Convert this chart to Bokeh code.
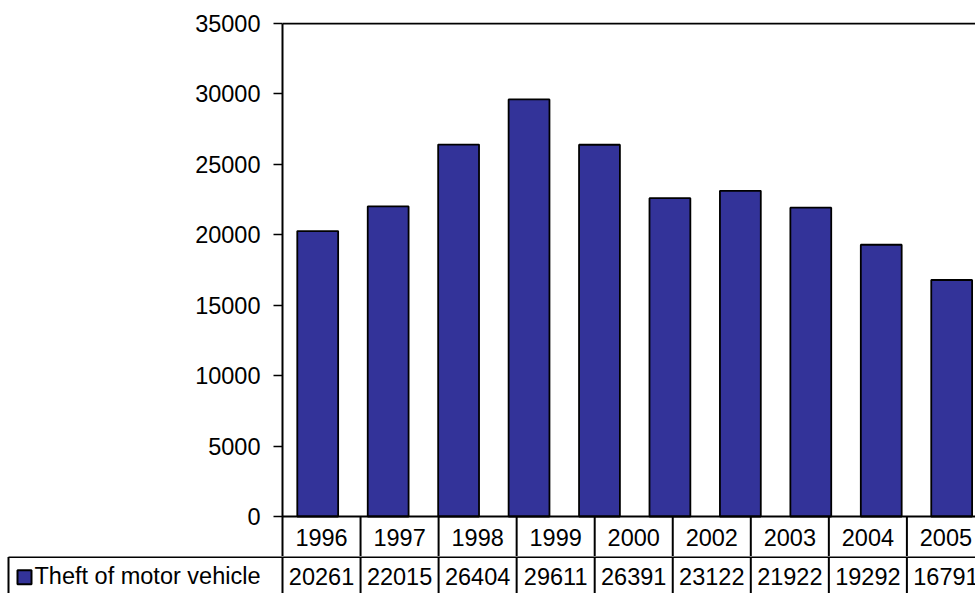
from bokeh.plotting import figure
from bokeh.layouts import column
from bokeh.models import Range1d, FixedTicker, Span, ColumnDataSource
from bokeh.core.properties import value
from bokeh.embed import file_html
from bokeh.resources import INLINE

# Yearly counts shown as bars (one bar per year)
bar_years = ["1996", "1997", "1998", "1999", "2000", "2001", "2002", "2003", "2004", "2005"]
bar_values = [20261, 22015, 26404, 29611, 26391, 22600, 23122, 21922, 19292, 16791]

# Data table printed under the chart
table_years = ["1996", "1997", "1998", "1999", "2000", "2002", "2003", "2004", "2005"]
table_values = [20261, 22015, 26404, 29611, 26391, 23122, 21922, 19292, 16791]
series_name = "Theft of motor vehicle"

y_ticks = [0, 5000, 10000, 15000, 20000, 25000, 30000, 35000]

FONT = "Liberation Sans"
FONT_SIZE = "23.5px"
NAVY = "#333399"

# Layout (pixels)
W, H = 975, 593
LEFT, TOP = 282, 22
ZERO_Y = 516          # pixel row of the value 0
SPLIT_Y = 556         # where the chart part ends and the data-row strip begins
PLOT_H = ZERO_Y - TOP - 1   # pixels for 0 .. 35000
BAR_STEP = 70.44      # width of one bar slot
COL_STEP = 78.05      # width of one table column
ROW_H = 40.5          # height of a table row
CELL_LEFT = 8         # left edge of the series key cell

frame_w = W - LEFT
vmax = y_ticks[-1]
units_per_px = vmax / PLOT_H
below_zero_px = SPLIT_Y - ZERO_Y

n_cols = len(table_years)
col_x = [j + 0.5 for j in range(n_cols)]


def no_frame_align(fig):
    # each figure keeps its own frame position inside the column
    try:
        fig.frame_align = False
    except AttributeError:
        pass


# ---------------- chart with the header row of the table ----------------
p = figure(
    width=W, height=SPLIT_Y,
    output_backend="svg", toolbar_location=None,
    x_range=Range1d(0, frame_w / BAR_STEP),
    y_range=Range1d(-below_zero_px * units_per_px, vmax + units_per_px),
    x_axis_location=None, y_axis_location="left",
    min_border_left=LEFT, min_border_right=0,
    min_border_top=TOP, min_border_bottom=0,
)
no_frame_align(p)
p.outline_line_color = None
p.background_fill_color = "white"
p.border_fill_color = "white"
p.xgrid.visible = False
p.ygrid.visible = False

p.extra_x_ranges = {"table": Range1d(0, frame_w / COL_STEP)}
p.extra_y_ranges = {"rows": Range1d(-below_zero_px / ROW_H, (PLOT_H + 1) / ROW_H)}

ax = p.yaxis[0]
ax.ticker = FixedTicker(ticks=y_ticks)
ax.bounds = (-below_zero_px * units_per_px, vmax)
ax.axis_line_width = 2
ax.axis_line_color = "black"
ax.major_tick_out = 9
ax.major_tick_in = 0
ax.major_tick_line_width = 1.5
ax.major_tick_line_color = "black"
ax.minor_tick_out = 0
ax.minor_tick_in = 0
ax.major_label_standoff = 13
ax.major_label_text_font = FONT
ax.major_label_text_font_size = FONT_SIZE
ax.major_label_text_color = "black"

src = ColumnDataSource(dict(
    x=[i + 0.5 for i in range(len(bar_years))],
    year=bar_years,
    top=bar_values,
))
p.vbar(x="x", top="top", bottom=0, width=0.58, source=src,
       fill_color=NAVY, line_color="black", line_width=1.8)

# frame top line and zero baseline
p.add_layout(Span(location=vmax, dimension="width", line_color="black", line_width=2))
p.add_layout(Span(location=0, dimension="width", line_color="black", line_width=2))

# header row: column separators and year labels
p.segment(x0=list(range(1, n_cols + 1)), y0=[0] * n_cols,
          x1=list(range(1, n_cols + 1)), y1=[-2] * n_cols,
          x_range_name="table", y_range_name="rows",
          line_color="black", line_width=2)
p.text(x=col_x, y=[-0.52] * n_cols, text=table_years,
       x_range_name="table", y_range_name="rows",
       text_align="center", text_baseline="middle",
       text_font=value(FONT), text_font_size=FONT_SIZE, text_color="black")

# ---------------- data row of the table with the series key ----------------
strip_h = H - SPLIT_Y
q = figure(
    width=W, height=strip_h,
    output_backend="svg", toolbar_location=None,
    x_range=Range1d(-LEFT / COL_STEP, frame_w / COL_STEP),
    y_range=Range1d(-(H - ZERO_Y) / ROW_H, -(SPLIT_Y - ZERO_Y) / ROW_H),
    x_axis_location=None, y_axis_location=None,
    min_border=0,
)
no_frame_align(q)
q.outline_line_color = None
q.background_fill_color = "white"
q.border_fill_color = "white"
q.xgrid.visible = False
q.ygrid.visible = False

cell_x = (CELL_LEFT - LEFT) / COL_STEP
# row top line, the key cell's left edge, and the column separators
q.segment(x0=[cell_x], y0=[-1], x1=[n_cols + 1], y1=[-1],
          line_color="black", line_width=2)
sep_x = [cell_x] + list(range(0, n_cols + 1))
q.segment(x0=sep_x, y0=[-1] * len(sep_x), x1=sep_x, y1=[-2.2] * len(sep_x),
          line_color="black", line_width=2)

# series key: coloured square and name
q.scatter(x=[(24 - LEFT) / COL_STEP], y=[-1.5], marker="square", size=14,
          fill_color=NAVY, line_color="black", line_width=2)
q.text(x=[(34 - LEFT) / COL_STEP], y=[-1.47], text=[series_name],
       text_align="left", text_baseline="middle",
       text_font=value(FONT), text_font_size=FONT_SIZE, text_color="black")

# values
q.text(x=col_x, y=[-1.47] * n_cols, text=[str(v) for v in table_values],
       text_align="center", text_baseline="middle",
       text_font=value(FONT), text_font_size=FONT_SIZE, text_color="black")

layout = column(p, q, spacing=0)
open("out.html", "w").write(file_html(layout, INLINE))
